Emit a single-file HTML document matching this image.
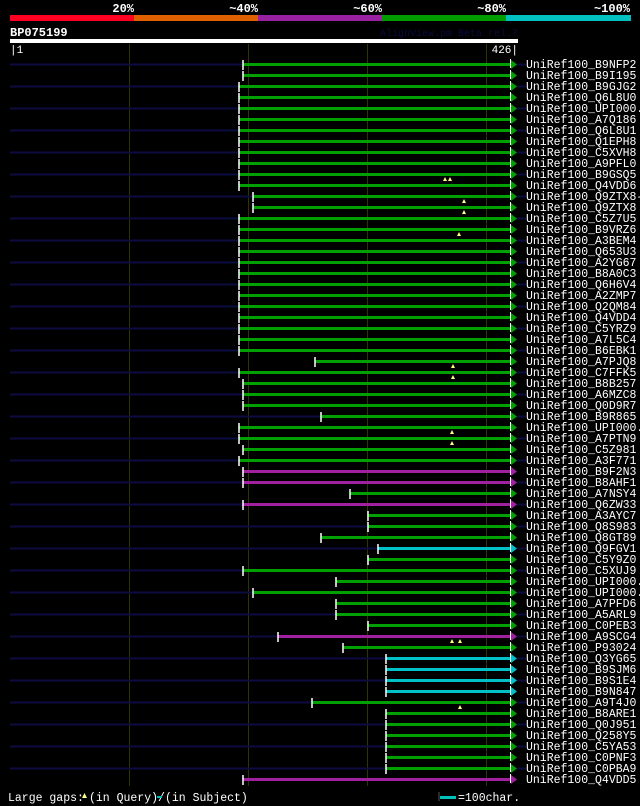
<!DOCTYPE html>
<html><head><meta charset="utf-8"><style>
html,body{margin:0;padding:0;background:#000;}
svg{display:block;}
text{font-family:"Liberation Mono","DejaVu Sans Mono",monospace;}
</style></head><body>
<svg width="640" height="806" viewBox="0 0 640 806" xmlns="http://www.w3.org/2000/svg">
<rect width="640" height="806" fill="#000"/>
<g font-size="12" font-weight="bold" fill="#fff" text-anchor="end">
<text x="134" y="12">20%</text><text x="258" y="12">~40%</text><text x="382" y="12">~60%</text><text x="506" y="12">~80%</text><text x="630" y="12">~100%</text>
</g>
<rect x="10" y="15" width="124" height="6" fill="#ff0022"/>
<rect x="134" y="15" width="124" height="6" fill="#e06000"/>
<rect x="258" y="15" width="124" height="6" fill="#9a22a0"/>
<rect x="382" y="15" width="124" height="6" fill="#009c00"/>
<rect x="506" y="15" width="125" height="6" fill="#00c0c0"/>
<text x="10" y="36" font-size="12" font-weight="bold" fill="#fff">BP075199</text>
<text x="518" y="36" font-size="10" fill="#0a0a40" text-anchor="end">AlignView.pm Beta rel.7</text>
<rect x="10" y="39" width="508" height="4" fill="#fff"/>
<g font-size="11" fill="#fff"><text x="10" y="53">|1</text><text x="518" y="53" text-anchor="end">426|</text></g>
<g stroke="#333300" stroke-width="1">
<line x1="129.5" y1="44" x2="129.5" y2="786"/><line x1="248.5" y1="44" x2="248.5" y2="786"/><line x1="367.5" y1="44" x2="367.5" y2="786"/><line x1="486.5" y1="44" x2="486.5" y2="786"/>
</g>
<!-- navy backgrounds -->
<path stroke="#0c0c40" stroke-width="2" fill="none" d="M10 64.5H243M517 64.5H526M10 86.5H239M517 86.5H526M10 108.5H239M517 108.5H526M10 130.5H239M517 130.5H526M10 152.5H239M517 152.5H526M10 174.5H239M517 174.5H526M10 196.5H253M517 196.5H526M10 218.5H239M517 218.5H526M10 240.5H239M517 240.5H526M10 262.5H239M517 262.5H526M10 284.5H239M517 284.5H526M10 306.5H239M517 306.5H526M10 328.5H239M517 328.5H526M10 350.5H239M517 350.5H526M10 372.5H239M517 372.5H526M10 394.5H243M517 394.5H526M10 416.5H321M517 416.5H526M10 438.5H239M517 438.5H526M10 460.5H239M517 460.5H526M10 482.5H243M517 482.5H526M10 504.5H243M517 504.5H526M10 526.5H368M517 526.5H526M10 548.5H378M517 548.5H526M10 570.5H243M517 570.5H526M10 592.5H253M517 592.5H526M10 614.5H336M517 614.5H526M10 636.5H278M517 636.5H526M10 658.5H386M517 658.5H526M10 680.5H386M517 680.5H526M10 702.5H312M517 702.5H526M10 724.5H386M517 724.5H526M10 746.5H386M517 746.5H526M10 768.5H386M517 768.5H526"/>
<!-- green bars -->
<path stroke="#00a000" stroke-width="3" fill="none" d="M243 64.5H512M243 75.5H512M239 86.5H512M239 97.5H512M239 108.5H512M239 119.5H512M239 130.5H512M239 141.5H512M239 152.5H512M239 163.5H512M239 174.5H512M239 185.5H512M253 196.5H512M253 207.5H512M239 218.5H512M239 229.5H512M239 240.5H512M239 251.5H512M239 262.5H512M239 273.5H512M239 284.5H512M239 295.5H512M239 306.5H512M239 317.5H512M239 328.5H512M239 339.5H512M239 350.5H512M315 361.5H512M239 372.5H512M243 383.5H512M243 394.5H512M243 405.5H512M321 416.5H512M239 427.5H512M239 438.5H512M243 449.5H512M239 460.5H512M350 493.5H512M368 515.5H512M368 526.5H512M321 537.5H512M368 559.5H512M243 570.5H512M336 581.5H512M253 592.5H512M336 603.5H512M336 614.5H512M368 625.5H512M343 647.5H512M312 702.5H512M386 713.5H512M386 724.5H512M386 735.5H512M386 746.5H512M386 757.5H512M386 768.5H512"/>
<path stroke="#a020a0" stroke-width="3" fill="none" d="M243 471.5H512M243 482.5H512M243 504.5H512M278 636.5H512M243 779.5H512"/>
<path stroke="#00c0c8" stroke-width="3" fill="none" d="M378 548.5H512M386 658.5H512M386 669.5H512M386 680.5H512M386 691.5H512"/>
<!-- arrows -->
<path fill="#00a000" d="M511 60L517 64.5L511 69ZM511 71L517 75.5L511 80ZM511 82L517 86.5L511 91ZM511 93L517 97.5L511 102ZM511 104L517 108.5L511 113ZM511 115L517 119.5L511 124ZM511 126L517 130.5L511 135ZM511 137L517 141.5L511 146ZM511 148L517 152.5L511 157ZM511 159L517 163.5L511 168ZM511 170L517 174.5L511 179ZM511 181L517 185.5L511 190ZM511 192L517 196.5L511 201ZM511 203L517 207.5L511 212ZM511 214L517 218.5L511 223ZM511 225L517 229.5L511 234ZM511 236L517 240.5L511 245ZM511 247L517 251.5L511 256ZM511 258L517 262.5L511 267ZM511 269L517 273.5L511 278ZM511 280L517 284.5L511 289ZM511 291L517 295.5L511 300ZM511 302L517 306.5L511 311ZM511 313L517 317.5L511 322ZM511 324L517 328.5L511 333ZM511 335L517 339.5L511 344ZM511 346L517 350.5L511 355ZM511 357L517 361.5L511 366ZM511 368L517 372.5L511 377ZM511 379L517 383.5L511 388ZM511 390L517 394.5L511 399ZM511 401L517 405.5L511 410ZM511 412L517 416.5L511 421ZM511 423L517 427.5L511 432ZM511 434L517 438.5L511 443ZM511 445L517 449.5L511 454ZM511 456L517 460.5L511 465ZM511 489L517 493.5L511 498ZM511 511L517 515.5L511 520ZM511 522L517 526.5L511 531ZM511 533L517 537.5L511 542ZM511 555L517 559.5L511 564ZM511 566L517 570.5L511 575ZM511 577L517 581.5L511 586ZM511 588L517 592.5L511 597ZM511 599L517 603.5L511 608ZM511 610L517 614.5L511 619ZM511 621L517 625.5L511 630ZM511 643L517 647.5L511 652ZM511 698L517 702.5L511 707ZM511 709L517 713.5L511 718ZM511 720L517 724.5L511 729ZM511 731L517 735.5L511 740ZM511 742L517 746.5L511 751ZM511 753L517 757.5L511 762ZM511 764L517 768.5L511 773Z"/>
<path fill="#a020a0" d="M511 467L517 471.5L511 476ZM511 478L517 482.5L511 487ZM511 500L517 504.5L511 509ZM511 632L517 636.5L511 641ZM511 775L517 779.5L511 784Z"/>
<path fill="#00c0c8" d="M511 544L517 548.5L511 553ZM511 654L517 658.5L511 663ZM511 665L517 669.5L511 674ZM511 676L517 680.5L511 685ZM511 687L517 691.5L511 696Z"/>
<!-- white start ticks -->
<path stroke="#fff" stroke-width="1.5" fill="none" d="M243 60v10M243 71v10M239 82v10M239 93v10M239 104v10M239 115v10M239 126v10M239 137v10M239 148v10M239 159v10M239 170v10M239 181v10M253 192v10M253 203v10M239 214v10M239 225v10M239 236v10M239 247v10M239 258v10M239 269v10M239 280v10M239 291v10M239 302v10M239 313v10M239 324v10M239 335v10M239 346v10M315 357v10M239 368v10M243 379v10M243 390v10M243 401v10M321 412v10M239 423v10M239 434v10M243 445v10M239 456v10M243 467v10M243 478v10M350 489v10M243 500v10M368 511v10M368 522v10M321 533v10M378 544v10M368 555v10M243 566v10M336 577v10M253 588v10M336 599v10M336 610v10M368 621v10M278 632v10M343 643v10M386 654v10M386 665v10M386 676v10M386 687v10M312 698v10M386 709v10M386 720v10M386 731v10M386 742v10M386 753v10M386 764v10M243 775v10"/>
<line x1="510.5" y1="59" x2="510.5" y2="785" stroke="#fff" stroke-width="1" stroke-dasharray="9,2"/>
<!-- gaps -->
<path fill="#ffff80" d="M443 181l2-4l2 4ZM448 181l2-4l2 4ZM462 203l2-4l2 4ZM462 214l2-4l2 4ZM457 236l2-4l2 4ZM451 368l2-4l2 4ZM451 379l2-4l2 4ZM450 434l2-4l2 4ZM450 445l2-4l2 4ZM450 643l2-4l2 4ZM458 643l2-4l2 4ZM458 709l2-4l2 4Z"/>
<g font-size="11.5" fill="#fff">
<text x="526" y="68">UniRef100_B9NFP2</text><text x="526" y="79">UniRef100_B9I195</text><text x="526" y="90">UniRef100_B9GJG2</text><text x="526" y="101">UniRef100_Q6L8U0</text><text x="526" y="112">UniRef100_UPI000..</text><text x="526" y="123">UniRef100_A7Q186</text><text x="526" y="134">UniRef100_Q6L8U1</text><text x="526" y="145">UniRef100_Q1EPH8</text><text x="526" y="156">UniRef100_C5XVH8</text><text x="526" y="167">UniRef100_A9PFL0</text><text x="526" y="178">UniRef100_B9GSQ5</text><text x="526" y="189">UniRef100_Q4VDD6</text><text x="526" y="200">UniRef100_Q9ZTX8-2</text><text x="526" y="211">UniRef100_Q9ZTX8</text><text x="526" y="222">UniRef100_C5Z7U5</text><text x="526" y="233">UniRef100_B9VRZ6</text><text x="526" y="244">UniRef100_A3BEM4</text><text x="526" y="255">UniRef100_Q653U3</text><text x="526" y="266">UniRef100_A2YG67</text><text x="526" y="277">UniRef100_B8A0C3</text><text x="526" y="288">UniRef100_Q6H6V4</text><text x="526" y="299">UniRef100_A2ZMP7</text><text x="526" y="310">UniRef100_Q2QM84</text><text x="526" y="321">UniRef100_Q4VDD4</text><text x="526" y="332">UniRef100_C5YRZ9</text><text x="526" y="343">UniRef100_A7L5C4</text><text x="526" y="354">UniRef100_B6EBK1</text><text x="526" y="365">UniRef100_A7PJQ8</text><text x="526" y="376">UniRef100_C7FFK5</text><text x="526" y="387">UniRef100_B8B257</text><text x="526" y="398">UniRef100_A6MZC8</text><text x="526" y="409">UniRef100_Q0D9R7</text><text x="526" y="420">UniRef100_B9R865</text><text x="526" y="431">UniRef100_UPI000..</text><text x="526" y="442">UniRef100_A7PTN9</text><text x="526" y="453">UniRef100_C5Z981</text><text x="526" y="464">UniRef100_A3F771</text><text x="526" y="475">UniRef100_B9F2N3</text><text x="526" y="486">UniRef100_B8AHF1</text><text x="526" y="497">UniRef100_A7NSY4</text><text x="526" y="508">UniRef100_Q6ZW33</text><text x="526" y="519">UniRef100_A3AYC7</text><text x="526" y="530">UniRef100_Q8S983</text><text x="526" y="541">UniRef100_Q8GT89</text><text x="526" y="552">UniRef100_Q9FGV1</text><text x="526" y="563">UniRef100_C5Y9Z0</text><text x="526" y="574">UniRef100_C5XUJ9</text><text x="526" y="585">UniRef100_UPI000..</text><text x="526" y="596">UniRef100_UPI000..</text><text x="526" y="607">UniRef100_A7PFD6</text><text x="526" y="618">UniRef100_A5ARL9</text><text x="526" y="629">UniRef100_C0PEB3</text><text x="526" y="640">UniRef100_A9SCG4</text><text x="526" y="651">UniRef100_P93024</text><text x="526" y="662">UniRef100_Q3YG65</text><text x="526" y="673">UniRef100_B9SJM6</text><text x="526" y="684">UniRef100_B9S1E4</text><text x="526" y="695">UniRef100_B9N847</text><text x="526" y="706">UniRef100_A9T4J0</text><text x="526" y="717">UniRef100_B8ARE1</text><text x="526" y="728">UniRef100_Q0J951</text><text x="526" y="739">UniRef100_Q258Y5</text><text x="526" y="750">UniRef100_C5YA53</text><text x="526" y="761">UniRef100_C0PNF3</text><text x="526" y="772">UniRef100_C0PBA9</text><text x="526" y="783">UniRef100_Q4VDD5</text>
</g>
<g font-size="11.5" fill="#fff">
<text x="8" y="801">Large gaps:</text>
<polygon points="82,798 84.5,793 87,798" fill="#ffff80"/>
<text x="89" y="801">(in Query)/</text>
<line x1="157" y1="797" x2="162" y2="797" stroke="#00c0c0" stroke-width="2"/>
<text x="165" y="801">(in Subject)</text>
<line x1="439" y1="792" x2="439" y2="801" stroke="#555" stroke-width="1"/>
<rect x="440" y="796" width="16" height="3" fill="#00c0c0"/>
<text x="458" y="801">=100char.</text>
</g>
</svg>
</body></html>
